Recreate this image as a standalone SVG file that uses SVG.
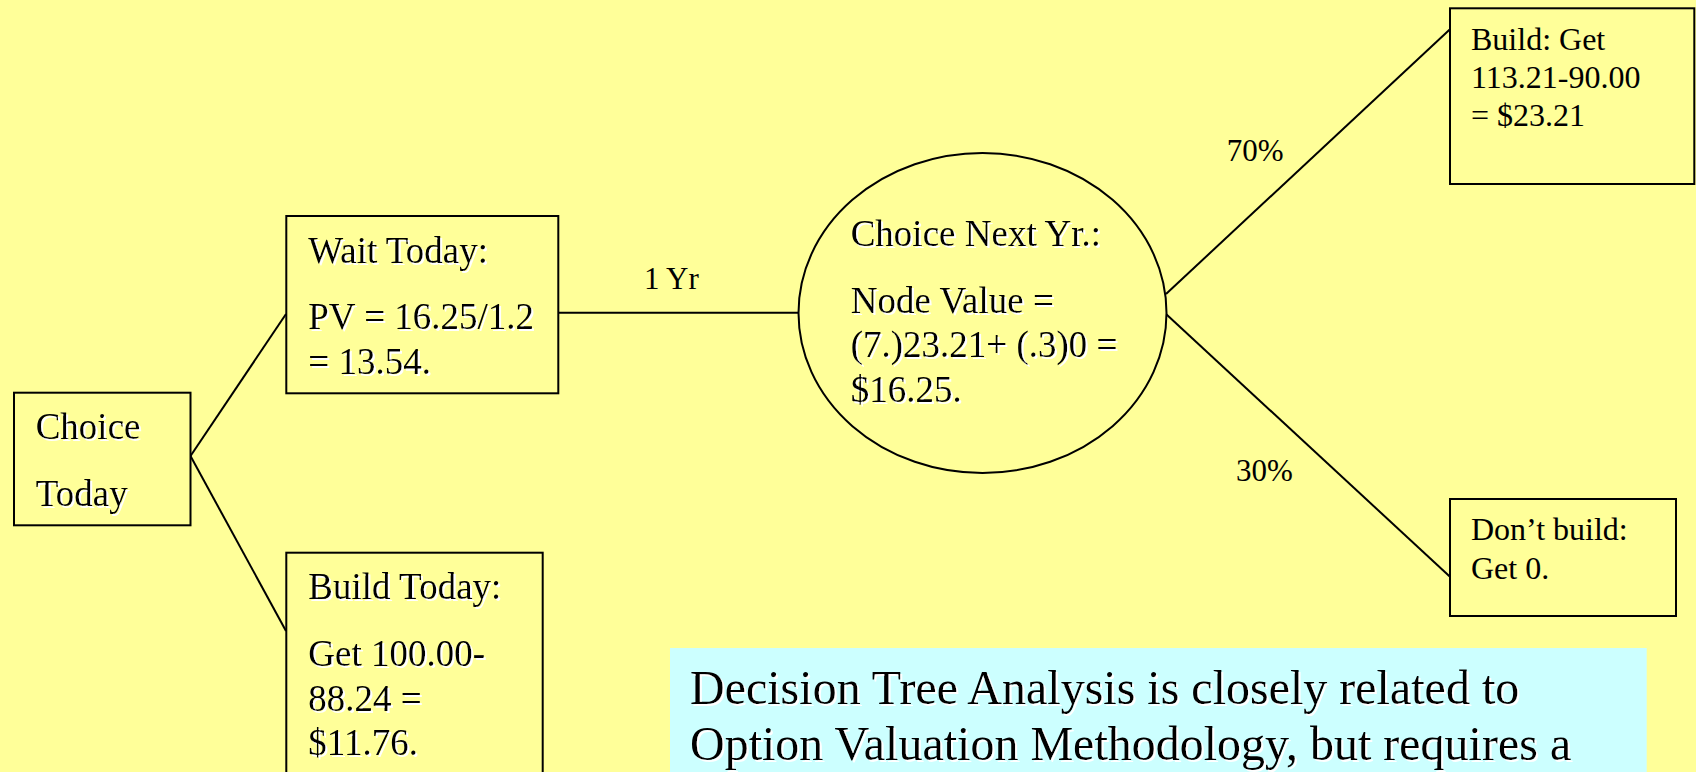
<svg xmlns="http://www.w3.org/2000/svg" width="1696" height="772" viewBox="0 0 1696 772">
<defs>
<filter id="sh" x="-5%" y="-5%" width="110%" height="120%">
<feOffset in="SourceAlpha" dx="1.5" dy="1.5" result="o"/>
<feFlood flood-color="#ffffff"/>
<feComposite in2="o" operator="in" result="s"/>
<feMerge><feMergeNode in="s"/><feMergeNode in="SourceGraphic"/></feMerge>
</filter>
</defs>
<style>
.box{fill:#FFFF99;stroke:#000;stroke-width:2}
.ln{stroke:#000;stroke-width:2;fill:none}
text{font-family:"Liberation Serif","Times New Roman",serif;fill:#000}
.big{font-size:37px}
.sm{font-size:32px}
.lbl{font-size:31px}
.note{font-size:48px}
.shd{filter:url(#sh)}
</style>
<rect x="0" y="0" width="1696" height="772" fill="#FFFF99"/>
<g id="connectors">
<line class="ln" x1="190.5" y1="456" x2="286" y2="314"/>
<line class="ln" x1="190.5" y1="456" x2="286" y2="631"/>
<line class="ln" x1="558.5" y1="312.7" x2="798.5" y2="312.7"/>
<line class="ln" x1="1166" y1="294" x2="1450" y2="29.3"/>
<line class="ln" x1="1166" y1="314" x2="1450" y2="576.7"/>
<text class="lbl" x="644" y="289.3">1 Yr</text>
<text class="lbl" x="1226.7" y="160.7">70%</text>
<text class="lbl" x="1236" y="480.7">30%</text>
</g>
<g id="choice-today">
<rect class="box" x="14" y="392.7" width="176.5" height="132.6"/>
<g class="shd"><text class="big" x="35.7" y="439">Choice</text>
<text class="big" x="35.7" y="506">Today</text></g>
</g>
<g id="wait-today">
<rect class="box" x="286.3" y="216" width="272" height="177.3"/>
<g class="shd"><text class="big" x="308.3" y="262.7">Wait Today:</text>
<text class="big" x="308.3" y="329.3">PV = 16.25/1.2</text>
<text class="big" x="308.3" y="374">= 13.54.</text></g>
</g>
<g id="build-today">
<rect class="box" x="286.3" y="552.7" width="256.4" height="230"/>
<g class="shd"><text class="big" x="308.3" y="599.3">Build Today:</text>
<text class="big" x="308.3" y="666">Get 100.00-</text>
<text class="big" x="308.3" y="710.7">88.24 =</text>
<text class="big" x="308.3" y="755">$11.76.</text></g>
</g>
<g id="choice-next-yr">
<ellipse class="box" cx="982.5" cy="313" rx="184" ry="160"/>
<g class="shd"><text class="big" x="850.7" y="246">Choice Next Yr.:</text>
<text class="big" x="850.7" y="312.7">Node Value =</text>
<text class="big" x="850.7" y="357">(7.)23.21+ (.3)0 =</text>
<text class="big" x="850.7" y="401.7">$16.25.</text></g>
</g>
<g id="build-next">
<rect class="box" x="1450" y="8.3" width="244.3" height="175.7"/>
<text class="sm" x="1471" y="50">Build: Get</text>
<text class="sm" x="1471" y="88.3">113.21-90.00</text>
<text class="sm" x="1471" y="126">= $23.21</text>
</g>
<g id="dont-build">
<rect class="box" x="1450" y="499" width="226" height="117"/>
<text class="sm" x="1471" y="540">Don’t build:</text>
<text class="sm" x="1471" y="579">Get 0.</text>
</g>
<g id="note">
<rect x="670" y="648" width="976.7" height="130" fill="#CCFFFF"/>
<g class="shd"><text class="note" x="690" y="704">Decision Tree Analysis is closely related to</text>
<text class="note" x="690" y="760">Option Valuation Methodology, but requires a</text></g>
</g>
</svg>
